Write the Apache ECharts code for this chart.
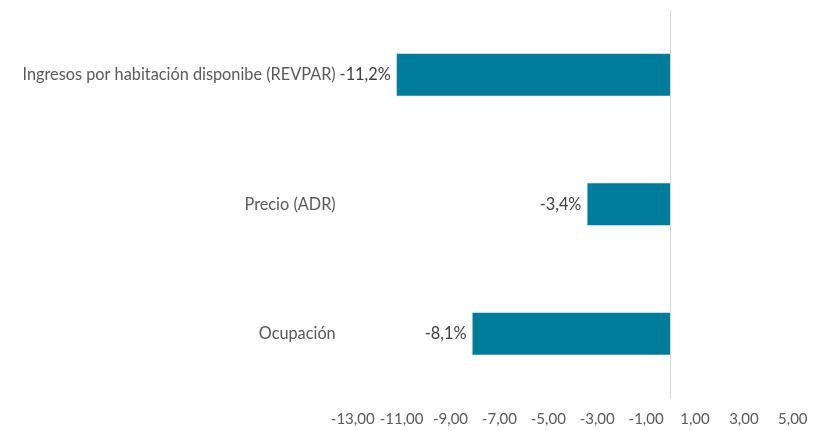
<!DOCTYPE html>
<html>
<head>
<meta charset="utf-8">
<script src="https://cdn.jsdelivr.net/npm/echarts@6/dist/echarts.min.js"></script>
<style>html,body{margin:0;padding:0;background:#fff}#c{width:830px;height:431px}</style>
</head>
<body>
<div id="c"></div>
<script>
var categories = ['Ocupación', 'Precio (ADR)', 'Ingresos por habitación disponibe (REVPAR)'];
var values = [-8.1, -3.4, -11.2];
var axisMin = -13, axisMax = 5, axisStep = 2;

var chart = echarts.init(document.getElementById('c'), null, {renderer: 'canvas'});
var font = 'Lato, "Open Sans", sans-serif';
chart.setOption({
  animation: false,
  grid: {left: 352.7, right: 37.2, top: 10, bottom: 32.5, containLabel: false},
  xAxis: {
    type: 'value', min: axisMin, max: axisMax, interval: axisStep,
    axisLine: {show: false}, axisTick: {show: false}, splitLine: {show: false},
    axisLabel: {color: '#595959', fontSize: 15, fontFamily: font, margin: 13,
      formatter: function (v) { return v.toFixed(2).replace('.', ','); }}
  },
  yAxis: {
    type: 'category', data: categories,
    axisLine: {show: false}, axisTick: {show: false},
    axisLabel: {color: '#595959', fontSize: 16.3, fontFamily: font, margin: 17}
  },
  series: [{
    type: 'bar', data: values, barWidth: '32.5%',
    itemStyle: {color: '#007B9A'},
    label: {show: true, position: 'left', distance: 6, color: '#404040', fontSize: 16.3, fontFamily: font,
      formatter: function (p) { return p.value.toFixed(1).replace('.', ',') + '%'; }},
    markLine: {silent: true, symbol: 'none', label: {show: false},
      lineStyle: {color: '#D9D9D9', width: 1, type: 'solid'},
      data: [{xAxis: 0}]}
  }]
});
</script>
</body>
</html>
